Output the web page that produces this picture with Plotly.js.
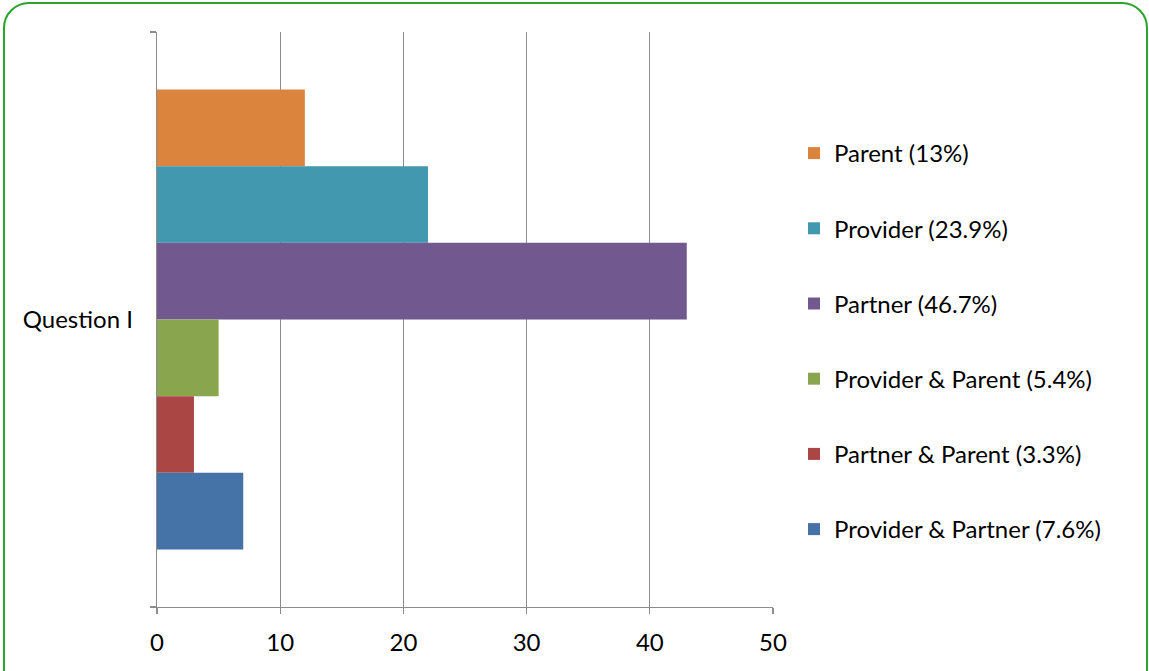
<!DOCTYPE html>
<html>
<head>
<meta charset="utf-8">
<script src="https://cdn.plot.ly/plotly-3.0.1.min.js"></script>
<style>
  html, body { margin: 0; padding: 0; background: #fff; overflow: hidden; }
  #chart { position: absolute; left: 0; top: 0; width: 1149px; height: 671px; }
  #frame { position: absolute; left: 3px; top: 2px; width: 1141px; height: 690px;
           border: 2px solid #2aa52a; border-radius: 26px; pointer-events: none; }
</style>
</head>
<body>
<div id="chart"></div>
<div id="frame"></div>
<script>
const categories = ["Question I"];
const seriesNames = ["Parent (13%)", "Provider (23.9%)", "Partner (46.7%)",
                     "Provider & Parent (5.4%)", "Partner & Parent (3.3%)", "Provider & Partner (7.6%)"];
const seriesValues = [12, 22, 43, 5, 3, 7];
const seriesColors = ["#DB843D", "#4198AF", "#71588F", "#89A54E", "#AA4643", "#4572A7"];
const xTicks = [0, 10, 20, 30, 40, 50];

const traces = seriesNames.map((name, i) => ({
  type: "bar",
  orientation: "h",
  name: name,
  y: categories,
  x: [seriesValues[i]],
  marker: { color: seriesColors[i], line: { width: 0 } },
  legendgroup: "g" + i,
  hoverinfo: "x+name"
}));

const font = { family: "Lato, 'Open Sans', sans-serif", size: 24, color: "#000" };

const layout = {
  width: 1149, height: 671,
  margin: { l: 157, r: 376, t: 32, b: 64 },
  paper_bgcolor: "#fff", plot_bgcolor: "#fff",
  barmode: "group", bargap: 0.2, bargroupgap: 0,
  font: font,
  showlegend: true,
  legend: {
    x: (794 - 157) / 616, xanchor: "left",
    y: (607 - 131) / 575, yanchor: "top",
    traceorder: "grouped", tracegroupgap: 41,
    font: font, bgcolor: "rgba(0,0,0,0)"
  },
  xaxis: {
    range: [0, 50], tickvals: xTicks, ticktext: xTicks.map(String),
    showgrid: true, gridcolor: "#8c8c8c", gridwidth: 1.3,
    showline: true, linecolor: "#8c8c8c", linewidth: 1.3,
    ticks: "outside", ticklen: 6, tickcolor: "#8c8c8c", tickwidth: 1.3,
    zeroline: false, tickfont: font, ticklabelstandoff: 8, fixedrange: true
  },
  yaxis: {
    type: "category", autorange: "reversed",
    showgrid: false, showline: true, linecolor: "#8c8c8c", linewidth: 1.3,
    ticks: "outside", tickson: "boundaries", ticklen: 6, tickcolor: "#8c8c8c", tickwidth: 1.3,
    tickfont: font, ticklabelstandoff: 18, fixedrange: true
  }
};

Plotly.newPlot("chart", traces, layout, { displayModeBar: false, staticPlot: true });
</script>
</body>
</html>
